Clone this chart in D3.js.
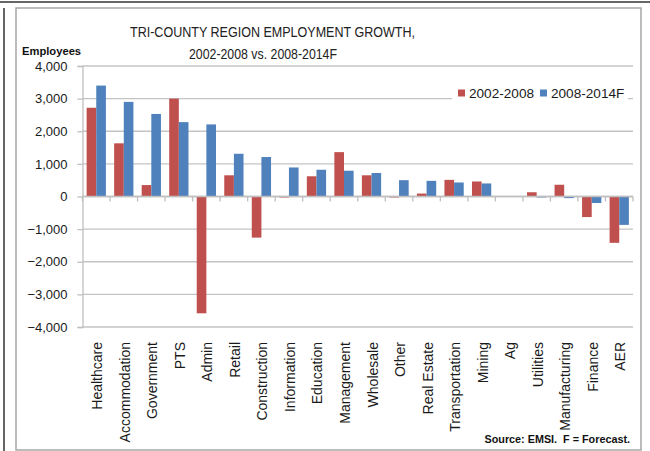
<!DOCTYPE html>
<html><head><meta charset="utf-8">
<script src="https://cdn.jsdelivr.net/npm/d3@7"></script>
<style>body{margin:0;background:#fff}svg{display:block}text{font-family:"Liberation Sans",Arial,sans-serif}</style>
</head><body>
<svg id="c" width="650" height="451"></svg>
<script>
const categories = ["Healthcare","Accommodation","Government","PTS","Admin","Retail","Construction","Information","Education","Management","Wholesale","Other","Real Estate","Transportation","Mining","Ag","Utilities","Manufacturing","Finance","AER"];
const series2002_2008 = [2720,1630,350,3000,-3580,650,-1260,-30,620,1360,650,-30,90,510,460,0,130,360,-630,-1420];
const series2008_2014F = [3400,2900,2530,2280,2210,1310,1210,890,820,790,720,500,480,430,400,0,-30,-50,-200,-870];
const seriesNames = ["2002-2008","2008-2014F"];
const seriesColors = ["#C0504D","#4F81BD"];
const yTicks = [-4000,-3000,-2000,-1000,0,1000,2000,3000,4000];

const svg = d3.select("#c");
// outer frame
svg.append("line").attr("x1",0).attr("x2",650).attr("y1",2).attr("y2",2).attr("stroke","#333").attr("stroke-width",1.5);
svg.append("line").attr("x1",4).attr("x2",4).attr("y1",8).attr("y2",451).attr("stroke","#333").attr("stroke-width",1.5);
svg.append("rect").attr("x",16).attr("y",8).attr("width",625).attr("height",442).attr("fill","none").attr("stroke","#a6a6a6").attr("stroke-width",1.5);

const L = 82.5, R = 633, T = 66, B = 327;
const y = d3.scaleLinear().domain([-4000,4000]).range([B,T]);
const x0 = d3.scaleBand().domain(categories).range([L,R]).paddingInner(0.3).paddingOuter(0.15);
const x1 = d3.scaleBand().domain(seriesNames).range([0,x0.bandwidth()]);
const step = x0.step();

// gridlines
svg.append("g").selectAll("line").data(yTicks).join("line")
  .attr("x1",L).attr("x2",R).attr("y1",d=>y(d)).attr("y2",d=>y(d))
  .attr("stroke","#c4c4c4").attr("stroke-width",1.3);

// y axis
const yAxis = d3.axisLeft(y).tickValues(yTicks).tickFormat(d3.format(",")).tickSize(5).tickPadding(10);
const ga = svg.append("g").attr("transform",`translate(${L},0)`).call(yAxis);
ga.select(".domain").attr("stroke","#bfbfbf").attr("stroke-width",1.3);
ga.selectAll(".tick line").attr("stroke","#bfbfbf").attr("stroke-width",1.3);
ga.selectAll(".tick text").attr("font-size","13px").attr("fill","#1a1a1a").attr("font-family","Liberation Sans, Arial, sans-serif");

// bars
const data = categories.map((c,i)=>({c, vals:[series2002_2008[i],series2008_2014F[i]]}));
const groups = svg.append("g").selectAll("g").data(data).join("g").attr("transform",d=>`translate(${x0(d.c)},0)`);
groups.selectAll("rect").data(d=>d.vals.map((v,j)=>({v,s:seriesNames[j],j}))).join("rect")
  .attr("x",d=>x1(d.s)).attr("width",x1.bandwidth())
  .attr("y",d=>y(Math.max(0,d.v))).attr("height",d=>Math.abs(y(d.v)-y(0)))
  .attr("fill",d=>seriesColors[d.j]);

// x axis at zero
const z = y(0);
svg.append("line").attr("x1",L).attr("x2",R).attr("y1",z).attr("y2",z).attr("stroke","#bfbfbf").attr("stroke-width",1.3);
const boundaries = d3.range(categories.length+1).map(i=>L+i*step);
svg.append("g").selectAll("line").data(boundaries).join("line")
  .attr("x1",d=>d).attr("x2",d=>d).attr("y1",z).attr("y2",z+5).attr("stroke","#bfbfbf").attr("stroke-width",1.3);

// category labels
svg.append("g").selectAll("text").data(categories).join("text")
  .attr("transform",d=>`translate(${x0(d)+x0.bandwidth()/2+6},342) rotate(-90)`)
  .attr("text-anchor","end").attr("font-size","14px").attr("fill","#1a1a1a").text(d=>d);

// title
svg.append("text").attr("x",130).attr("y",36.5).attr("font-size","14.5px").attr("fill","#222")
  .attr("textLength",285).attr("lengthAdjust","spacingAndGlyphs").text("TRI-COUNTY REGION EMPLOYMENT GROWTH,");
svg.append("text").attr("x",189).attr("y",58.5).attr("font-size","14.5px").attr("fill","#222")
  .attr("textLength",148).attr("lengthAdjust","spacingAndGlyphs").text("2002-2008 vs. 2008-2014F");

// y label
svg.append("text").attr("x",22).attr("y",55).attr("font-size","11.2px").attr("font-weight","bold").attr("fill","#111").text("Employees");

// legend
const lg = svg.append("g");
lg.append("rect").attr("x",452).attr("y",84).attr("width",176).attr("height",18).attr("fill","#fff");
const lx = [458,540], tx=[469,551];
seriesNames.forEach((n,i)=>{
  lg.append("rect").attr("x",lx[i]).attr("y",89.5).attr("width",7).attr("height",7).attr("fill",seriesColors[i]);
  lg.append("text").attr("x",tx[i]).attr("y",97.5).attr("font-size","13.6px").attr("fill","#1a1a1a").text(n);
});

// source
svg.append("text").attr("x",630).attr("y",443).attr("text-anchor","end").attr("font-size","10.8px").attr("font-weight","bold").attr("fill","#111").attr("xml:space","preserve").text("Source: EMSI.  F = Forecast.");
</script>
</body></html>
